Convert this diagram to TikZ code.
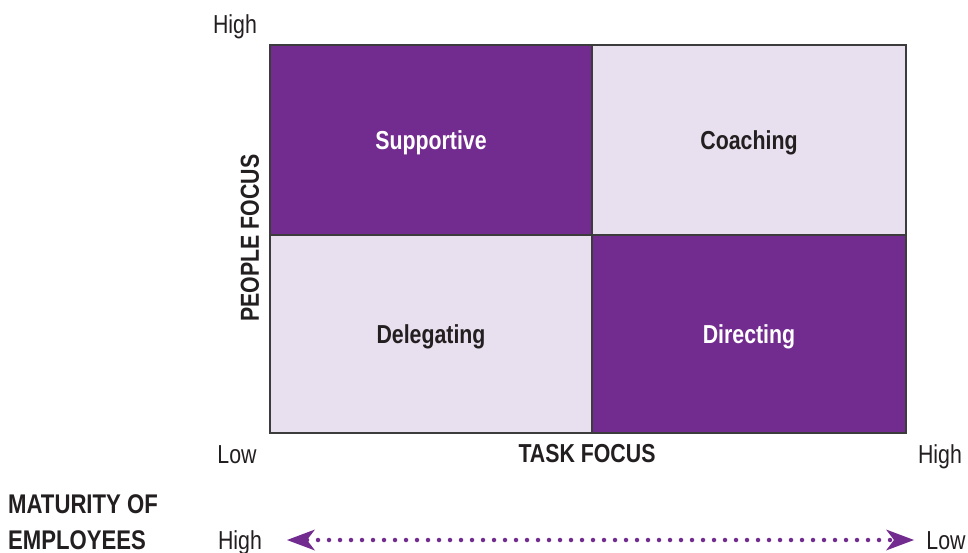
\documentclass[tikz,border=0pt]{standalone}
\usepackage{fontspec}
\setmainfont{Liberation Sans}[FakeStretch=0.82]
\usetikzlibrary{arrows.meta}
\definecolor{deeppurple}{RGB}{114,43,142}
\definecolor{palepurple}{RGB}{232,224,238}
\definecolor{gridline}{RGB}{60,60,60}
\definecolor{inktext}{RGB}{35,31,32}
\tikzset{
  quad/.style={draw=gridline, line width=2pt, minimum width=#1, inner sep=0pt,
    font=\fontsize{26}{30}\selectfont\bfseries, text height=19pt, text depth=0pt},
  darkquad/.style={quad=#1, fill=deeppurple, text=white},
  lightquad/.style={quad=#1, fill=palepurple, text=inktext},
  axislabel/.style={font=\fontsize{26}{30}\selectfont, text=inktext, inner sep=0pt, anchor=base},
  axistitle/.style={font=\fontsize{26}{30}\selectfont\bfseries, text=inktext, inner sep=0pt},
  sidetitle/.style={font=\fontsize{27}{32}\selectfont\bfseries, text=inktext, inner sep=0pt, anchor=base west},
  scale arrow/.style={draw=deeppurple, line width=4.5pt, line cap=round,
    dash pattern=on 0pt off 11pt,
    {Stealth[length=28pt,width=21pt,inset=8pt,fill=deeppurple,line width=0pt]}-{Stealth[length=28pt,width=21pt,inset=8pt,fill=deeppurple,line width=0pt]}}
}
\begin{document}
\begin{tikzpicture}[x=1pt,y=-1pt]
\useasboundingbox (0,0) rectangle (968,553);

% the four quadrants of the grid
\node[darkquad=322pt, minimum height=190pt] (supportive) at (431,140) {Supportive};
\node[lightquad=314pt, minimum height=190pt] (coaching) at (749,140) {Coaching};
\node[lightquad=322pt, minimum height=198pt] (delegating) at (431,334) {Delegating};
\node[darkquad=314pt, minimum height=198pt] (directing) at (749,334) {Directing};

% axis ends and titles
\node[axislabel] (peopleHigh) at (235,34) {High};
\node[axislabel] (taskLow) at (237,463) {Low};
\node[axislabel] (taskHigh) at (940,463) {High};
\node[axistitle, anchor=base] (taskFocus) at (587,462) {TASK FOCUS};
\node[axistitle, rotate=90] (peopleFocus) at (250,238) {PEOPLE FOCUS};

% maturity scale
\node[sidetitle] (maturity) at (8,513) {MATURITY OF};
\node[sidetitle] (employees) at (8,549) {EMPLOYEES};
\node[axislabel] (matHigh) at (240,549) {High};
\node[axislabel] (matLow) at (946,549) {Low};
\coordinate (arrowL) at (287,540);
\coordinate (arrowR) at (914,540);
\draw[scale arrow] (arrowL) -- (arrowR);
\end{tikzpicture}
\end{document}
